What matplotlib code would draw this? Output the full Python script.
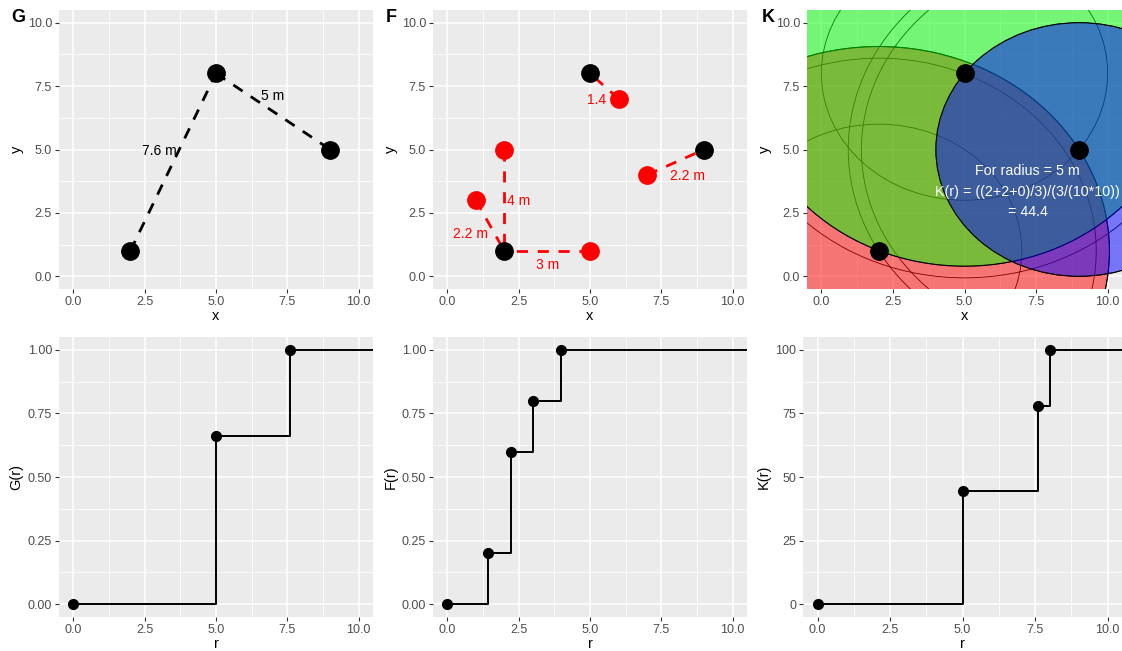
import numpy as np
import matplotlib
matplotlib.use("Agg")
import matplotlib.pyplot as plt
from matplotlib.patches import Circle
from matplotlib.ticker import MultipleLocator, FormatStrFormatter

plt.rcParams["font.family"] = ["Liberation Sans", "DejaVu Sans"]

W, H = 1122, 651
BG = "#EBEBEB"
TICK_COL = "#4D4D4D"

# observed events (shared by the three top panels)
event_x = [2, 5, 9]
event_y = [1, 8, 5]

# G: nearest-neighbour links between events
g_from_x = [2, 5]
g_from_y = [1, 8]
g_to_x = [5, 9]
g_to_y = [8, 5]
g_labels = ["7.6 m", "5 m"]
g_label_x = [3.0, 7.0]
g_label_y = [4.95, 7.1]

# F: random sample points and their nearest event
rand_x = [6, 1, 2, 5, 7]
rand_y = [7, 3, 5, 1, 4]
near_x = [5, 2, 2, 2, 9]
near_y = [8, 1, 1, 1, 5]
f_labels = ["1.4 m", "2.2 m", "4 m", "3 m", "2.2 m"]
f_label_x = [5.5, 0.8, 2.5, 3.5, 8.4]
f_label_y = [6.96, 1.65, 2.95, 0.45, 3.95]

# K: circles around events
ring_radii = [5, 7.6, 8.06]
fill_x = [2, 5, 9]
fill_y = [1, 8, 5]
fill_r = [8.06, 7.6, 5]
fill_colors = ["red", "lime", "blue"]
k_text = ["For radius = 5 m", "K(r) = ((2+2+0)/3)/(3/(10*10))", "= 44.4"]
k_text_x = 7.2
k_text_y = [4.17, 3.34, 2.55]

# summary functions (step curves)
g_r = [0, 5, 7.6]
g_val = [0, 0.66, 1.0]
f_r = [0, 1.41, 2.24, 3, 4]
f_val = [0, 0.2, 0.6, 0.8, 1.0]
k_r = [0, 5, 7.6, 8.0]
k_val = [0, 44.4, 77.8, 100]


def px_axes(fig, x0, y0, x1, y1):
    return fig.add_axes([x0 / W, 1 - y1 / H, (x1 - x0) / W, (y1 - y0) / H])


def style(ax, ymax, ystep, yfmt, xlabel, ylabel):
    ax.set_facecolor(BG)
    for s in ax.spines.values():
        s.set_visible(False)
    ax.set_xlim(-0.5, 10.5)
    ax.set_ylim(-0.05 * ymax, 1.05 * ymax)
    ax.xaxis.set_major_locator(MultipleLocator(2.5))
    ax.xaxis.set_minor_locator(MultipleLocator(1.25))
    ax.yaxis.set_major_locator(MultipleLocator(ystep))
    ax.yaxis.set_minor_locator(MultipleLocator(ystep / 2))
    ax.xaxis.set_major_formatter(FormatStrFormatter("%.1f"))
    ax.yaxis.set_major_formatter(FormatStrFormatter(yfmt))
    ax.grid(which="major", color="white", linewidth=1.1)
    ax.grid(which="minor", color="white", linewidth=0.55)
    ax.set_axisbelow(True)
    ax.tick_params(which="major", length=3, width=0.8, color="#333333",
                   labelsize=9, labelcolor=TICK_COL, pad=2)
    ax.tick_params(which="minor", length=0)
    ax.set_xlabel(xlabel, fontsize=10.5, labelpad=1)
    ax.set_ylabel(ylabel, fontsize=10.5, labelpad=3)


fig = plt.figure(figsize=(W / 100, H / 100), dpi=100)

# ---- G top ----
ax = px_axes(fig, 59, 10, 373, 289)
style(ax, 10, 2.5, "%.1f", "x", "y")
for x0, y0, x1, y1 in zip(g_from_x, g_from_y, g_to_x, g_to_y):
    ax.plot([x0, x1], [y0, y1], color="black", lw=2, ls=(0, (4, 3.5)), zorder=2)
for lab, lx, ly in zip(g_labels, g_label_x, g_label_y):
    ax.text(lx, ly, lab, fontsize=10, ha="center", va="center", zorder=3)
ax.plot(event_x, event_y, "o", color="black", ms=12.5, zorder=4)

# ---- F top ----
ax = px_axes(fig, 433, 10, 747, 289)
style(ax, 10, 2.5, "%.1f", "x", "y")
for x0, y0, x1, y1 in zip(rand_x, rand_y, near_x, near_y):
    ax.plot([x0, x1], [y0, y1], color="red", lw=2, ls=(0, (4, 3.5)), zorder=2)
for lab, lx, ly in zip(f_labels, f_label_x, f_label_y):
    ax.text(lx, ly, lab, fontsize=10, color="red", ha="center", va="center", zorder=3)
ax.plot(event_x, event_y, "o", color="black", ms=12.5, zorder=4)
ax.plot(rand_x, rand_y, "o", color="red", ms=12.5, zorder=4)

# ---- K top ----
ax = px_axes(fig, 807, 10, 1122, 289)
style(ax, 10, 2.5, "%.1f", "x", "y")
for cx, cy in zip(event_x, event_y):
    for r in ring_radii:
        ax.add_patch(Circle((cx, cy), r, fill=False, edgecolor="black", lw=0.6, zorder=2))
for cx, cy, r, c in zip(fill_x, fill_y, fill_r, fill_colors):
    ax.add_patch(Circle((cx, cy), r, facecolor=c, alpha=0.5, edgecolor="none", zorder=3))
    ax.add_patch(Circle((cx, cy), r, fill=False, edgecolor="black", lw=0.8, zorder=3))
ax.plot(event_x, event_y, "o", color="black", ms=12.5, zorder=5)
for t, ty in zip(k_text, k_text_y):
    ax.text(k_text_x, ty, t, color="white", fontsize=10.3, ha="center", va="center", zorder=6)

# ---- bottom row ----
bottoms = [
    (59, 373, g_r, g_val, 1.0, 0.25, "%.2f", "G(r)"),
    (433, 747, f_r, f_val, 1.0, 0.25, "%.2f", "F(r)"),
    (803, 1122, k_r, k_val, 100, 25, "%d", "K(r)"),
]
for x0, x1, rr, vv, ymax, ystep, yfmt, ylab in bottoms:
    ax = px_axes(fig, x0, 337, x1, 617)
    style(ax, ymax, ystep, yfmt, "r", ylab)
    ax.step(np.append(rr, 11), np.append(vv, vv[-1]), where="post",
            color="black", lw=1.4, zorder=2)
    ax.plot(rr, vv, "o", color="black", ms=7, zorder=3)

for lab, x in zip(["G", "F", "K"], [18, 391, 768]):
    fig.text(x / W, 1 - 18 / H, lab, fontsize=13, fontweight="bold",
             ha="center", va="center")

fig.savefig("out.png", dpi=100, facecolor="white")
